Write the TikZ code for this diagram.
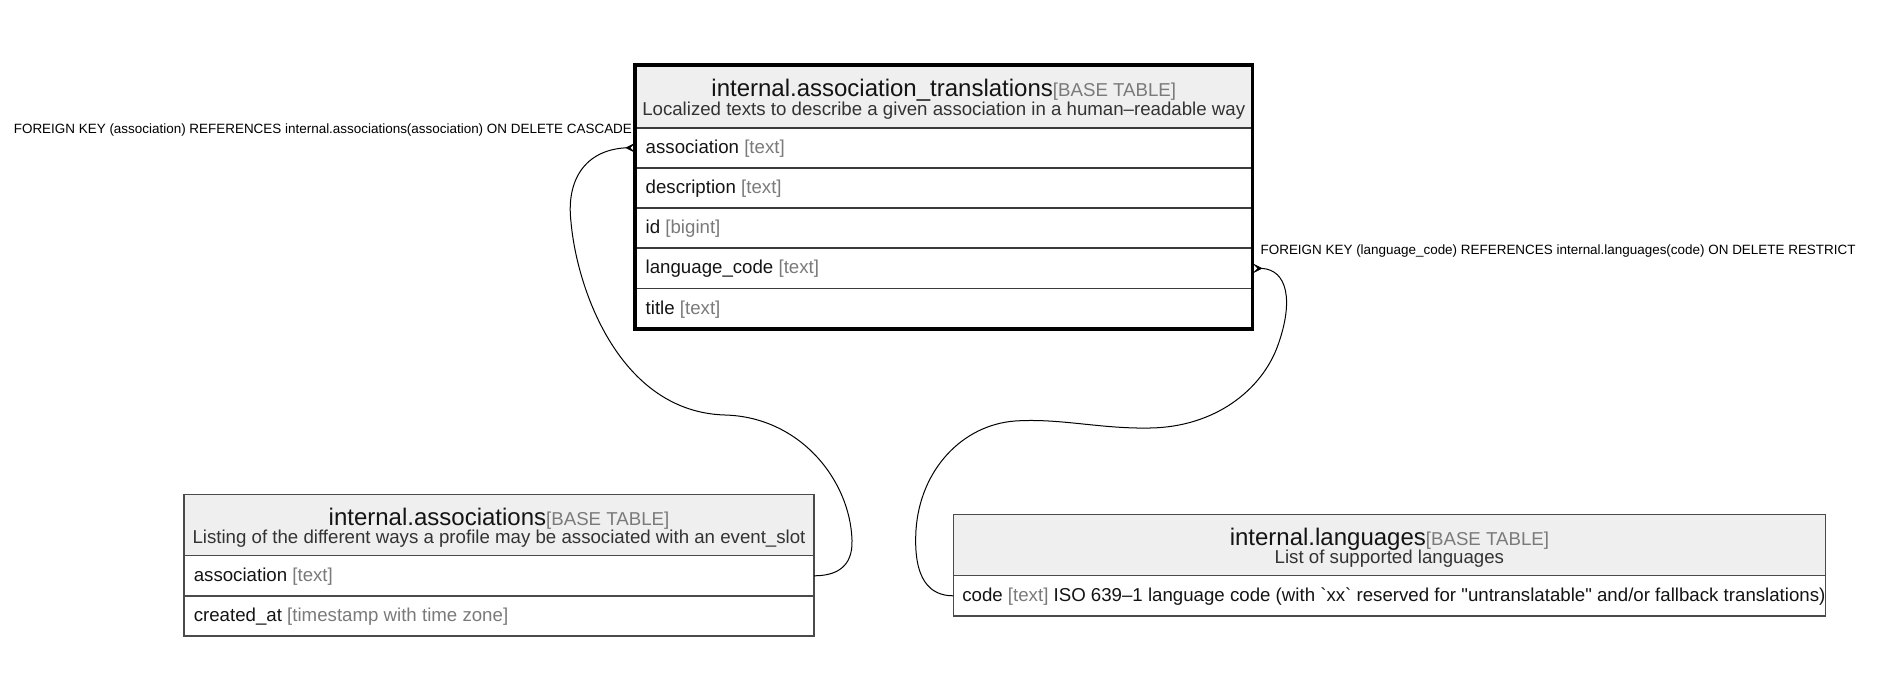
\documentclass[tikz,border=0pt]{standalone}
\usepackage{fontspec}
\setmainfont{Liberation Sans}
\newfontfamily\plainsans{Liberation Sans}
\definecolor{hdrgray}{HTML}{EFEFEF}
\definecolor{typegray}{HTML}{7A7A7A}
\definecolor{rulegray}{HTML}{3A3A3A}
\definecolor{framegray}{HTML}{4A4A4A}
\definecolor{subgray}{HTML}{333333}
\definecolor{namecol}{HTML}{141414}
\newcommand{\typ}[1]{{\color{typegray}#1}}
\begin{document}
\begin{tikzpicture}[x=1pt,y=-1pt,
  every node/.style={inner sep=0pt, outer sep=0pt},
  cell/.style={rectangle, anchor=north west, draw=rulegray, line width=1.8pt},
  thincell/.style={rectangle, anchor=north west, draw=framegray, line width=1.5pt},
  hdrcell/.style={fill=hdrgray},
  fld/.style={anchor=base west, font=\plainsans\fontsize{18.67}{22}\selectfont, text=namecol},
  ttl/.style={anchor=base, font=\plainsans\fontsize{24}{28}\selectfont, text=namecol},
  sub/.style={anchor=base, font=\plainsans\fontsize{18.67}{22}\selectfont, text=subgray},
  fklabel/.style={font=\plainsans\fontsize{13.45}{16}\selectfont, text=black},
  conn/.style={draw=black, line width=1pt},
  crow/.style={fill=black, draw=black, line width=0.6pt, line join=miter}]
\useasboundingbox (0,0) rectangle (1888,699);

% ---------- internal.association_translations ----------
\node[cell, hdrcell, minimum width=617.5pt, minimum height=62.7pt] (t-hd) at (635,65) {};
\node[cell, minimum width=617.5pt, minimum height=40.2pt] (t-assoc) at (635,127.7) {};
\node[cell, minimum width=617.5pt, minimum height=40.2pt] (t-desc)  at (635,167.9) {};
\node[cell, minimum width=617.5pt, minimum height=40.2pt] (t-id)    at (635,208.1) {};
\node[cell, minimum width=617.5pt, minimum height=40.2pt] (t-lang)  at (635,248.3) {};
\node[cell, minimum width=617.5pt, minimum height=40.2pt] (t-title) at (635,288.5) {};
\draw[line width=3.6pt, black] (t-hd.north west) rectangle (t-title.south east);

\node[ttl] (t-name) at ([yshift=-31.7pt]t-hd.north)
  {internal.association\_translations{\fontsize{18.67}{22}\selectfont\typ{[BASE TABLE]}}};
\node[sub] (t-sub) at ([yshift=-50.5pt]t-hd.north)
  {Localized texts to describe a given association in a human–readable way};
\node[fld] (t-assoc-l) at ([xshift=10.7pt,yshift=-5.4pt]t-assoc.west) {association \typ{[text]}};
\node[fld] (t-desc-l)  at ([xshift=10.7pt,yshift=-5.4pt]t-desc.west)  {description \typ{[text]}};
\node[fld] (t-id-l)    at ([xshift=10.7pt,yshift=-5.4pt]t-id.west)    {id \typ{[bigint]}};
\node[fld] (t-lang-l)  at ([xshift=10.7pt,yshift=-5.4pt]t-lang.west)  {language\_code \typ{[text]}};
\node[fld] (t-title-l) at ([xshift=10.7pt,yshift=-5.4pt]t-title.west) {title \typ{[text]}};

% ---------- internal.associations ----------
\node[thincell, hdrcell, minimum width=630pt, minimum height=61.4pt] (a-hd) at (184,494.3) {};
\node[thincell, minimum width=630pt, minimum height=40.2pt] (a-assoc) at (184,555.7) {};
\node[thincell, minimum width=630pt, minimum height=40.2pt] (a-created) at (184,595.9) {};

\node[ttl] (a-name) at ([yshift=-31pt]a-hd.north)
  {internal.associations{\fontsize{18.67}{22}\selectfont\typ{[BASE TABLE]}}};
\node[sub] (a-sub) at ([yshift=-49.5pt]a-hd.north)
  {Listing of the different ways a profile may be associated with an event\_slot};
\node[fld] (a-assoc-l)   at ([xshift=9.8pt,yshift=-5.4pt]a-assoc.west)   {association \typ{[text]}};
\node[fld] (a-created-l) at ([xshift=9.8pt,yshift=-5.4pt]a-created.west) {created\_at \typ{[timestamp with time zone]}};

% ---------- internal.languages ----------
\node[thincell, hdrcell, minimum width=872.2pt, minimum height=61.4pt] (l-hd) at (953.3,514.3) {};
\node[thincell, minimum width=872.2pt, minimum height=40.2pt] (l-code) at (953.3,575.7) {};

\node[ttl] (l-name) at ([yshift=-31pt]l-hd.north)
  {internal.languages{\fontsize{18.67}{22}\selectfont\typ{[BASE TABLE]}}};
\node[sub] (l-sub) at ([yshift=-49.5pt]l-hd.north) {List of supported languages};
\node[fld] (l-code-l) at ([xshift=9pt,yshift=-5.4pt]l-code.west)
  {code \typ{[text]} ISO 639–1 language code (with `xx` reserved for "untranslatable" and/or fallback translations)};

% ---------- foreign keys ----------
\coordinate (fk1) at ([xshift=-9pt]t-assoc.west);
\coordinate (fk2) at ([xshift=9.5pt]t-lang.east);

\draw[conn] (fk1) .. controls (585,150) and (566,180) .. (571,222)
  .. controls (577,290) and (620,412) .. (725,415)
  .. controls (800,417) and (850,480) .. (852,540)
  .. controls (853,568) and (835,575.8) .. (a-assoc.east);
\fill[crow] (fk1) -- ++(8,-4) -- ++(-4,4) -- ++(4,4) -- cycle;

\draw[conn] (fk2) .. controls (1287,270) and (1294,300) .. (1278,345)
  .. controls (1262,390) and (1215,427) .. (1150,428)
  .. controls (1100,429) and (1060,418) .. (1015,421)
  .. controls (962,425) and (920,470) .. (916,530)
  .. controls (913,580) and (930,595.8) .. (l-code.west);
\fill[crow] (fk2) -- ++(-8,-4) -- ++(4,4) -- ++(-4,4) -- cycle;

\node[fklabel, anchor=base east] (fk1-label) at (632,133.5)
  {FOREIGN KEY (association) REFERENCES internal.associations(association) ON DELETE CASCADE};
\node[fklabel, anchor=base west] (fk2-label) at (1260.6,254)
  {FOREIGN KEY (language\_code) REFERENCES internal.languages(code) ON DELETE RESTRICT};
\end{tikzpicture}
\end{document}
